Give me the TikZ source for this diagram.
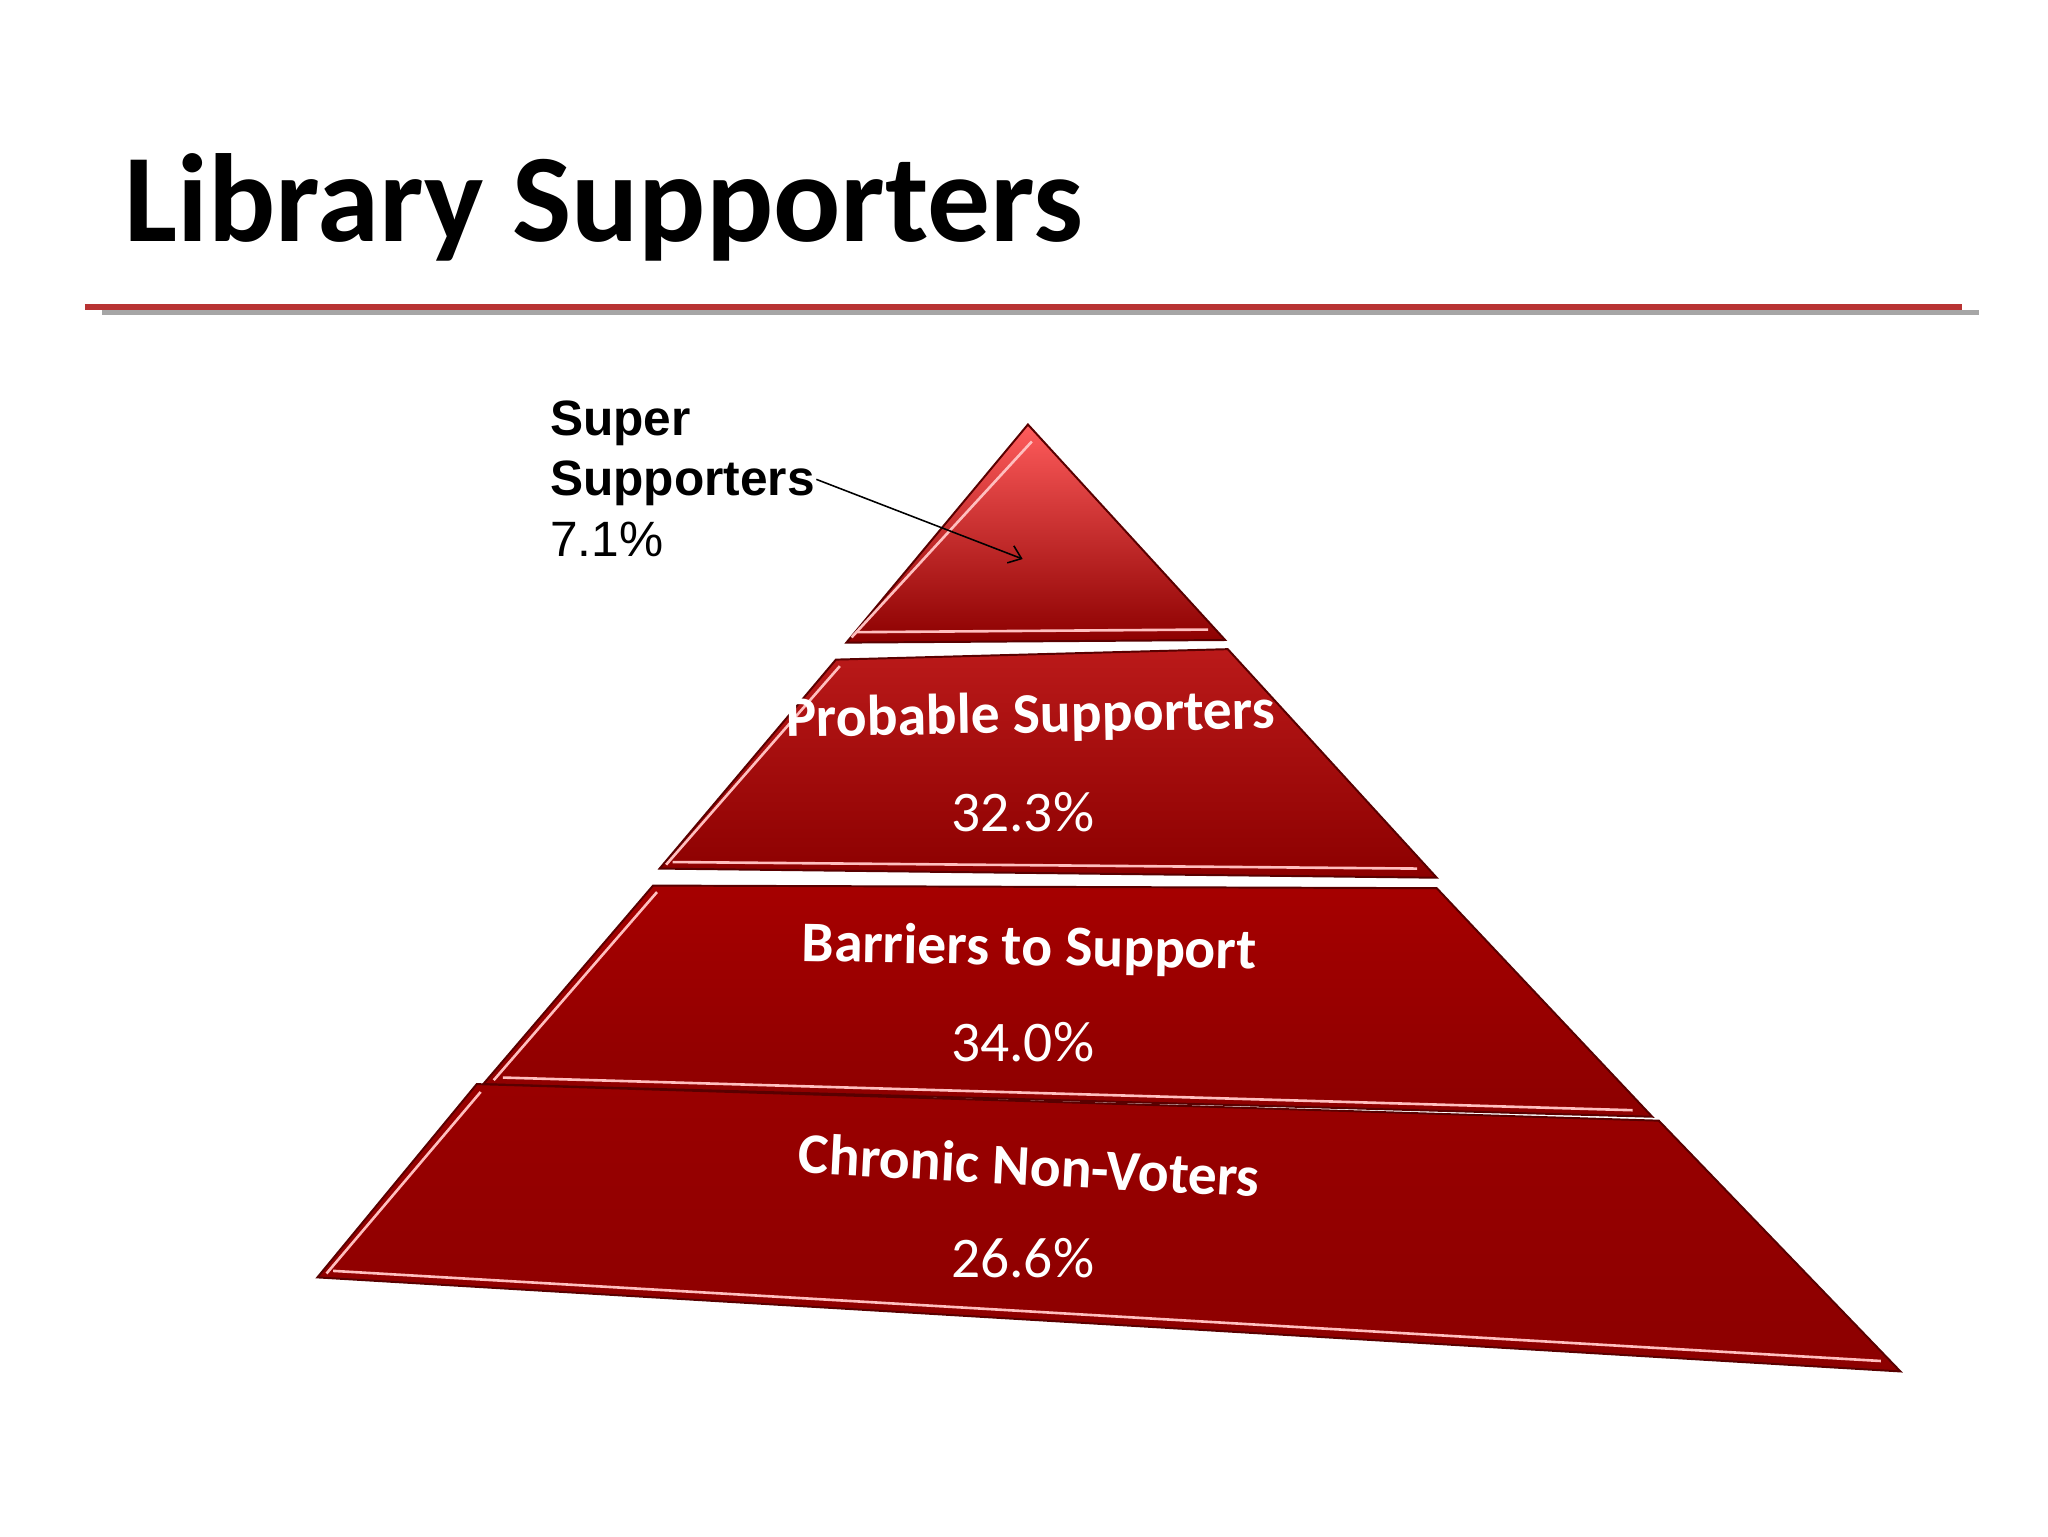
\documentclass[tikz,border=0pt]{standalone}
\usepackage{fontspec}
\setmainfont{Carlito}
\newfontfamily\arialf{Liberation Sans}
\usetikzlibrary{arrows.meta}
\begin{document}
\begin{tikzpicture}[x=1pt,y=-1pt,
  tier/.style={draw=red!35!black,line width=1.5pt,top color=#1,bottom color=red!55!black},
  rim/.style={draw=red!25!white,line width=2pt},
  lbl/.style={text=white,font=\fontsize{44}{48}\selectfont\bfseries},
  pct/.style={text=white,font=\fontsize{44}{48}\selectfont}]
\useasboundingbox[fill=white] (0,0) rectangle (1568,1176);
\node[anchor=base west,inner sep=0,font=\fontsize{96}{100}\selectfont\bfseries] (title) at (95,185) {Library Supporters};
\draw[gray!70,line width=4pt] (78,239) -- (1515,239);
\draw[red!65!black!80,line width=4pt] (65,235) -- (1502,235);
% tiers
\path[tier=red!55!white!80!red] (787,325) -- (938,490) -- (648,492) -- cycle;
\path[tier=red!70!black!90] (640,505) -- (940,497) -- (1100,672) -- (505,665) -- cycle;
\path[tier=red!65!black] (500,678) -- (1100,680) -- (1265,855) -- (370,830) -- cycle;
\path[tier=red!60!black] (365,830) -- (1270,858) -- (1455,1050) -- (243,978) -- cycle;
\draw[rim] (790,338) -- (652,488);
\draw[rim] (655,484) -- (925,482);
\draw[rim] (643,510) -- (510,662);
\draw[rim] (515,660) -- (1085,665);
\draw[rim] (503,683) -- (378,827);
\draw[rim] (385,825) -- (1250,850);
\draw[rim] (368,836) -- (250,975);
\draw[rim] (255,973) -- (1440,1042);
% texts
\node[lbl,rotate=1] (t2) at (789,549) {Probable Supporters};
\node[pct] (p2) at (783,622) {32.3\%};
\node[lbl,rotate=-1] (t3) at (788,727) {Barriers to Support};
\node[pct] (p3) at (783,798) {34.0\%};
\node[lbl,rotate=-3] (t4) at (788,892) {Chronic Non-Voters};
\node[pct] (p4) at (783,963) {26.6\%};
\node[anchor=north west,inner sep=0,align=left,font=\arialf\fontsize{38}{46}\selectfont] (ss) at (421,307) {\textbf{Super}\\\textbf{Supporters}\\7.1\%};
\coordinate (sa) at (625,367);
\coordinate (sb) at (783,428);
\draw[-{Straight Barb[length=9pt,width=14pt]},line width=1.2pt] (sa) -- (sb);
\end{tikzpicture}
\end{document}
